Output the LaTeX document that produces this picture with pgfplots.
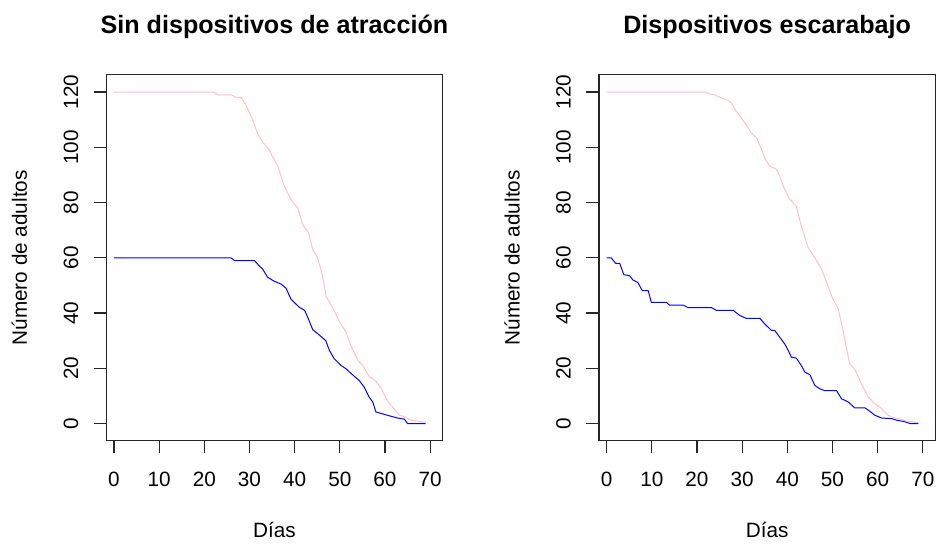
\documentclass[border=0pt]{standalone}
\usepackage{fontspec}
\setmainfont{Liberation Sans}
\usepackage{pgfplots}
\pgfplotsset{compat=1.18}
\definecolor{rpink}{HTML}{FFC0CB}
\definecolor{rblue}{HTML}{0000FF}
\pgfplotsset{
  rplot/.style={
    scale only axis, width=168.65pt, height=183.65pt,
    xmin=-1.68, xmax=72.75, ymin=-6.25, ymax=126.25,
    axis line style={line width=0.6pt, black!85},
    xtick={0,10,...,70}, ytick={0,20,...,120},
    tick pos=left, tick align=outside, major tick length=6.3pt,
    tick style={line width=0.6pt, black!85},
    /pgf/number format/assume math mode=true,
    ticklabel style={font=\fontsize{10.4}{12}\selectfont},
    xticklabel style={anchor=base},
    xticklabel shift=16.7pt,
    yticklabel style={rotate=90, anchor=base},
    yticklabel shift=7.9pt,
    every axis x label/.style={at={(rel axis cs:0.5,0)}, yshift=-48.35pt, anchor=base, font=\fontsize{10.4}{12}\selectfont},
    every axis y label/.style={at={(rel axis cs:0,0.5)}, xshift=-39.85pt, rotate=90, anchor=base, font=\fontsize{10.4}{12}\selectfont},
    every axis title/.style={at={(rel axis cs:0.5,1)}, yshift=20.8pt, anchor=base, font=\bfseries\fontsize{12.6}{15}\selectfont},
    xlabel={Días}, ylabel={Número de adultos},
  }
}
\pgfplotstableread{
x y
0 120
22 120
23 119
26 119
27 118
28.2 118
29.3 115
30.7 110
31.8 105
32.9 102
34.4 99
36.3 93
37.7 86
39.2 81
40.7 78
41.8 72
43.1 69
44.0 63
45.1 60
46.1 54
47.0 46
48.4 42
49.9 37
51.4 33
52.5 28
54.0 23
55.1 21
56.5 17
57.6 16
59.1 13
60.6 8
61.7 6
63.2 3
64.3 2.5
65.8 1.2
67.6 0.8
69 0.5
}\sinpink
\pgfplotstableread{
x y
0 60
25.9 60
26.7 59
31.1 59
32.2 57
32.9 56
34 53
35.5 51.5
37 50.5
38.1 49
39.2 45
41.1 42
42.2 41
42.9 38.5
44 34
45.5 32
46.9 30
47.7 26.5
48.8 23.4
50.3 21
51.4 19.8
52.8 17.7
54.3 15.6
55.4 13.2
56.5 9.6
57.3 7.8
58 4.2
59.5 3.5
61 2.8
62.8 2
64.3 1.6
65 0
69 0
}\sinblue
\pgfplotstableread{
x y
0 120
21.7 120
22.8 119.3
23.9 119
25.4 117.8
26.9 117
27.6 116
28.7 113
29.8 110.6
30.9 108.2
32.0 105.2
33.2 103.4
34.3 99.2
35.0 96.2
36.1 93.2
37.6 92
38.3 89.6
39.4 84.8
40.5 81.2
42.0 78.7
43.1 71.5
44.6 63.7
46.1 60.1
47.6 55.9
48.7 51.1
50.1 45.1
51.3 41.5
52.4 33.1
53.8 21.6
54.9 19.8
56.4 14.4
57.9 9.6
59.4 7.2
60.9 5.4
62.3 3
63.8 2
65.3 1.6
66.8 0.8
68.6 0.4
69 0.4
}\escpink
\pgfplotstableread{
x y
0 60
1.0 60
2.0 58
2.9 58
3.8 53.9
5.1 53.5
5.8 52
6.9 51.1
7.9 48.1
9.2 48.1
9.9 43.9
13.2 43.9
13.9 42.9
16.9 42.9
18.0 42
23.2 42
24.3 41
28.0 41
29.5 39.1
30.9 38.1
33.9 38.1
35.0 36.1
36.5 33.7
37.2 33.7
38.3 31.3
39.4 28.9
40.2 26.5
40.9 24
42.0 23.7
43.1 21
43.9 18.6
45.0 17.7
46.1 13.8
47.2 12.6
48.3 11.9
50.9 11.9
52.0 9
53.5 7.8
54.9 5.7
57.2 5.7
58.3 4.4
59.4 3
60.9 2
63.1 1.8
64.2 1.2
65.7 0.8
67.2 0
69 0
}\escblue
\begin{document}
\begin{tikzpicture}
\path (-53.35pt,-50.35pt) rectangle (417.15pt,221.15pt);
\begin{axis}[rplot, title={Sin dispositivos de atracción}]
\addplot[rpink, line width=0.5pt] table[x=x,y=y] {\sinpink};
\addplot[rblue, line width=0.5pt] table[x=x,y=y] {\sinblue};
\end{axis}
\begin{axis}[rplot, at={(247.15pt,0pt)}, anchor=south west, title={Dispositivos escarabajo}]
\addplot[rpink, line width=0.5pt] table[x=x,y=y] {\escpink};
\addplot[rblue, line width=0.5pt] table[x=x,y=y] {\escblue};
\end{axis}
\end{tikzpicture}
\end{document}
